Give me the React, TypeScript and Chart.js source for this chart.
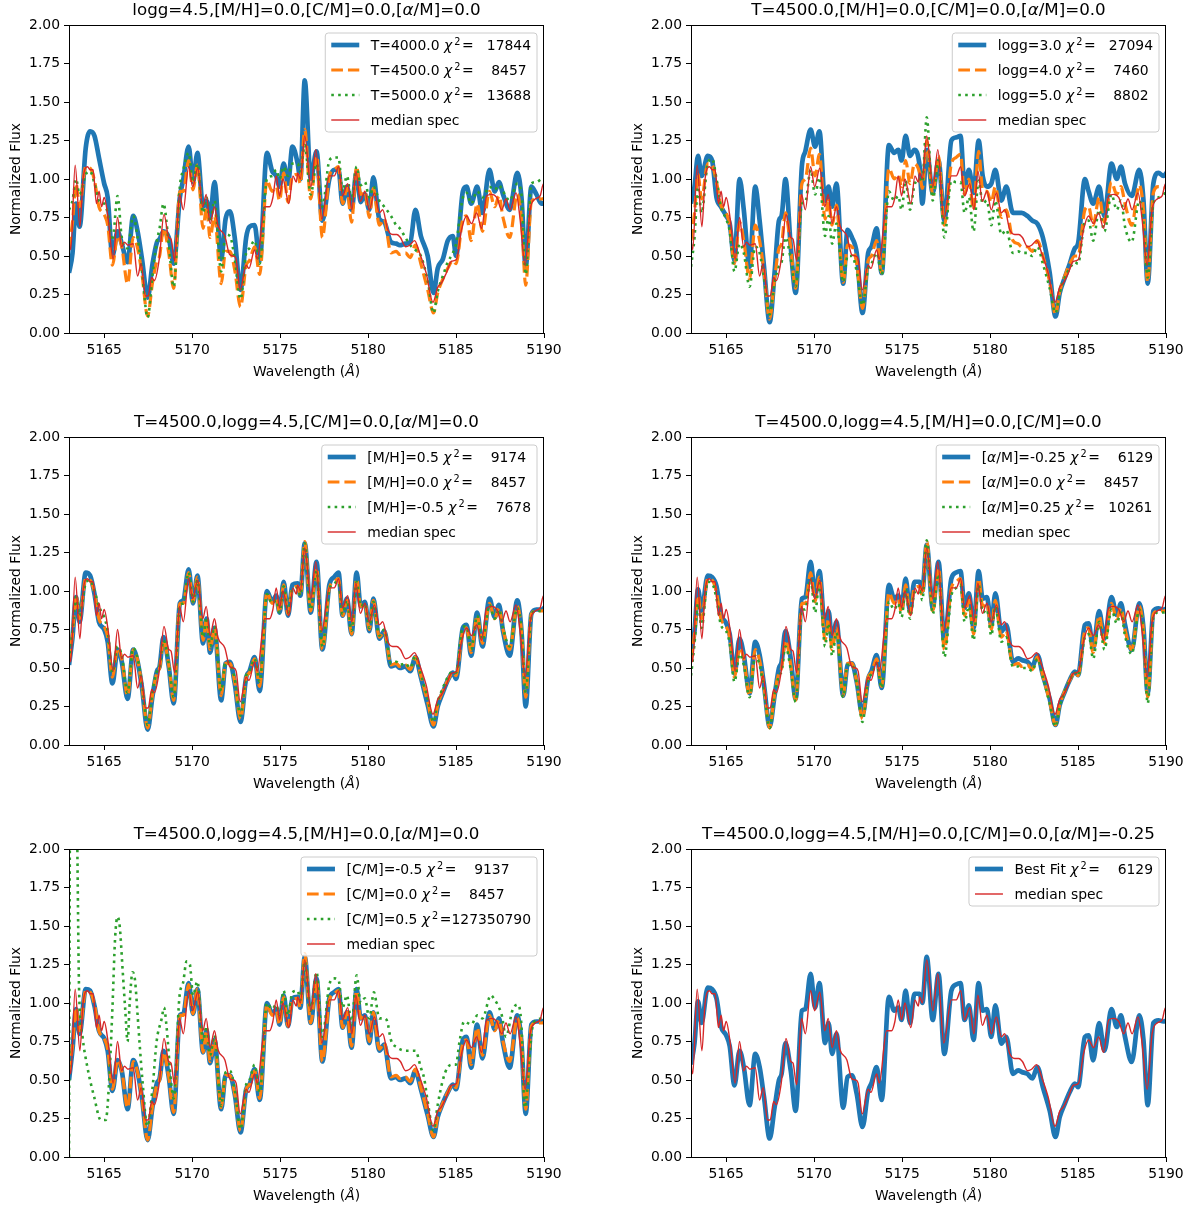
import React, { useEffect, useRef } from "react";
import { Chart, registerables } from "chart.js";
Chart.register(...registerables);

// ---------------- data ----------------
const X_MIN = 5163;
const X_MAX = 5190;
const X_TICKS = [5165, 5170, 5175, 5180, 5185, 5190];
const Y_TICKS = [0, 0.25, 0.5, 0.75, 1.0, 1.25, 1.5, 1.75, 2.0];

// wavelength nodes shared by the model spectra
const MODEL_WL = [
  5163.0, 5163.2, 5163.4, 5163.6, 5163.95, 5164.2, 5164.45, 5164.7, 5165.0, 5165.2,
  5165.47, 5165.76, 5166.0, 5166.33, 5166.65, 5166.9, 5167.15, 5167.47, 5167.75, 5168.0,
  5168.15, 5168.37, 5168.67, 5168.95, 5169.3, 5169.5, 5169.8, 5170.05, 5170.3, 5170.62,
  5170.82, 5171.02, 5171.27, 5171.65, 5171.9, 5172.15, 5172.42, 5172.75, 5173.07, 5173.26,
  5173.55, 5173.84, 5174.25, 5174.55, 5174.78, 5174.97, 5175.2, 5175.45, 5175.7, 5176.0,
  5176.15, 5176.4, 5176.74, 5177.07, 5177.4, 5177.8, 5178.07, 5178.32, 5178.55, 5178.8,
  5179.06, 5179.35, 5179.58, 5179.82, 5180.07, 5180.3, 5180.64, 5180.92, 5181.3, 5181.6,
  5181.8, 5182.12, 5182.4, 5182.69, 5183.0, 5183.39, 5183.72, 5183.96, 5184.25, 5184.53,
  5184.82, 5185.0, 5185.39, 5185.6, 5185.86, 5186.2, 5186.5, 5186.9, 5187.2, 5187.44,
  5187.67, 5188.05, 5188.48, 5188.72, 5188.96, 5189.28, 5189.57, 5189.85, 5190.1,
];

// T=4500, logg=4.5, [M/H]=0, [C/M]=0, [a/M]=0
const BASE = [
  0.55, 0.72, 0.97, 0.82, 1.08, 1.07, 0.99, 0.82, 0.77, 0.70,
  0.44, 0.63, 0.56, 0.32, 0.62, 0.55, 0.38, 0.11, 0.33, 0.47,
  0.50, 0.68, 0.52, 0.29, 0.92, 0.92, 1.12, 0.93, 1.09, 0.68,
  0.82, 0.62, 0.76, 0.32, 0.53, 0.53, 0.41, 0.17, 0.44, 0.47,
  0.56, 0.38, 0.99, 0.92, 0.95, 0.86, 1.04, 0.85, 1.02, 1.03,
  0.97, 1.32, 0.87, 1.15, 0.62, 1.02, 1.06, 1.08, 0.84, 0.94,
  0.72, 1.08, 0.90, 0.92, 0.75, 0.94, 0.70, 0.74, 0.52, 0.53,
  0.51, 0.52, 0.49, 0.57, 0.45, 0.28, 0.13, 0.26, 0.35, 0.42,
  0.47, 0.45, 0.74, 0.76, 0.60, 0.84, 0.66, 0.92, 0.82, 0.89,
  0.75, 0.62, 0.90, 0.74, 0.31, 0.85, 0.87, 0.87, 0.88,
];

const T4000 = [
  0.39, 0.52, 0.84, 0.69, 1.20, 1.31, 1.28, 1.14, 0.97, 0.88,
  0.50, 0.66, 0.58, 0.46, 0.76, 0.66, 0.48, 0.23, 0.45, 0.59,
  0.61, 0.66, 0.62, 0.45, 0.88, 1.00, 1.21, 0.98, 1.17, 0.82,
  0.86, 0.75, 0.98, 0.48, 0.74, 0.79, 0.62, 0.28, 0.62, 0.69,
  0.70, 0.47, 1.17, 1.05, 1.02, 0.95, 1.10, 0.97, 1.21, 1.10,
  1.00, 1.64, 1.00, 1.18, 0.73, 1.00, 1.06, 1.06, 0.84, 0.95,
  0.80, 1.05, 0.85, 0.90, 0.80, 1.01, 0.74, 0.72, 0.59, 0.58,
  0.57, 0.58, 0.59, 0.80, 0.63, 0.50, 0.26, 0.42, 0.48, 0.60,
  0.63, 0.50, 0.92, 0.95, 0.84, 0.95, 0.78, 1.06, 0.92, 0.98,
  0.90, 0.80, 1.04, 0.88, 0.43, 0.95, 0.90, 0.84, 0.85,
];

const T5000 = [
  0.80, 0.86, 1.00, 0.90, 1.03, 1.05, 0.97, 0.86, 0.84, 0.78,
  0.60, 0.89, 0.62, 0.55, 0.76, 0.62, 0.40, 0.10, 0.38, 0.60,
  0.68, 0.84, 0.58, 0.30, 0.95, 1.06, 1.17, 0.98, 1.10, 0.78,
  0.88, 0.72, 0.86, 0.40, 0.64, 0.63, 0.48, 0.22, 0.52, 0.55,
  0.60, 0.45, 1.00, 1.02, 1.06, 1.00, 1.08, 1.02, 1.10, 1.10,
  1.05, 1.22, 0.90, 1.10, 0.82, 1.12, 1.14, 1.14, 0.92, 1.02,
  0.86, 1.08, 0.96, 0.98, 0.88, 0.95, 0.86, 0.82, 0.76, 0.70,
  0.68, 0.62, 0.57, 0.54, 0.50, 0.34, 0.13, 0.27, 0.37, 0.46,
  0.52, 0.58, 0.88, 0.91, 0.84, 0.92, 0.88, 0.95, 0.93, 0.96,
  0.92, 0.86, 0.97, 0.90, 0.38, 0.97, 0.98, 1.00, 1.01,
];

const LOGG30 = [
  0.84, 0.95, 1.15, 1.02, 1.15, 1.12, 0.88, 0.82, 0.76, 0.71,
  0.47, 1.00, 0.80, 0.43, 0.95, 0.73, 0.43, 0.07, 0.39, 0.73,
  0.76, 1.00, 0.56, 0.26, 1.08, 1.18, 1.32, 1.21, 1.31, 0.86,
  0.95, 0.82, 0.97, 0.32, 0.67, 0.62, 0.52, 0.13, 0.52, 0.56,
  0.68, 0.39, 1.22, 1.17, 1.19, 1.12, 1.28, 1.15, 1.19, 1.08,
  0.84, 1.19, 0.91, 1.12, 0.73, 1.25, 1.27, 1.28, 0.95, 1.06,
  0.91, 1.25, 1.02, 0.95, 0.97, 1.06, 0.86, 0.95, 0.78, 0.78,
  0.78, 0.76, 0.73, 0.71, 0.62, 0.39, 0.107, 0.26, 0.36, 0.45,
  0.55, 0.58, 1.00, 0.92, 0.84, 0.95, 0.76, 1.10, 1.00, 1.08,
  0.97, 0.89, 1.06, 0.86, 0.32, 0.97, 1.04, 1.02, 1.05,
];

const LOGG40 = [
  0.60, 0.78, 1.03, 0.87, 1.10, 1.09, 0.98, 0.83, 0.78, 0.70,
  0.45, 0.72, 0.60, 0.35, 0.70, 0.60, 0.40, 0.09, 0.35, 0.55,
  0.58, 0.78, 0.55, 0.29, 0.97, 1.00, 1.20, 1.02, 1.16, 0.74,
  0.86, 0.70, 0.83, 0.33, 0.57, 0.56, 0.45, 0.16, 0.47, 0.50,
  0.60, 0.39, 1.07, 1.00, 1.03, 0.95, 1.12, 0.97, 1.10, 1.04,
  0.94, 1.25, 0.90, 1.15, 0.70, 1.10, 1.14, 1.16, 0.90, 1.00,
  0.80, 1.18, 0.93, 0.92, 0.85, 0.95, 0.75, 0.80, 0.60, 0.58,
  0.56, 0.56, 0.53, 0.60, 0.50, 0.33, 0.12, 0.27, 0.37, 0.45,
  0.50, 0.50, 0.80, 0.82, 0.70, 0.88, 0.72, 0.98, 0.90, 0.95,
  0.84, 0.70, 0.96, 0.80, 0.33, 0.91, 0.95, 0.95, 0.93,
];

const LOGG50 = [
  0.43, 0.62, 0.95, 0.78, 1.10, 1.13, 1.00, 0.82, 0.74, 0.66,
  0.40, 0.58, 0.52, 0.30, 0.56, 0.52, 0.36, 0.12, 0.33, 0.43,
  0.46, 0.62, 0.48, 0.30, 0.84, 0.85, 1.06, 0.90, 1.01, 0.63,
  0.76, 0.58, 0.71, 0.33, 0.50, 0.50, 0.40, 0.18, 0.42, 0.45,
  0.52, 0.38, 0.92, 0.86, 0.89, 0.80, 0.99, 0.80, 0.96, 1.00,
  0.98, 1.40, 0.86, 1.12, 0.62, 0.99, 0.98, 0.98, 0.78, 0.88,
  0.66, 0.99, 0.84, 0.86, 0.70, 0.86, 0.64, 0.67, 0.52, 0.53,
  0.52, 0.52, 0.50, 0.56, 0.45, 0.29, 0.13, 0.26, 0.36, 0.42,
  0.46, 0.45, 0.72, 0.73, 0.60, 0.80, 0.66, 0.90, 0.80, 0.86,
  0.69, 0.59, 0.86, 0.72, 0.36, 0.84, 0.88, 0.90, 0.93,
];

const MH_P05 = [
  0.52, 0.70, 0.96, 0.80, 1.12, 1.10, 0.98, 0.80, 0.75, 0.67,
  0.40, 0.62, 0.54, 0.30, 0.62, 0.54, 0.37, 0.10, 0.32, 0.48,
  0.51, 0.70, 0.51, 0.27, 0.92, 0.94, 1.14, 0.92, 1.10, 0.66,
  0.82, 0.60, 0.76, 0.29, 0.53, 0.54, 0.40, 0.15, 0.44, 0.48,
  0.57, 0.35, 1.00, 0.93, 0.97, 0.86, 1.06, 0.84, 1.04, 1.05,
  0.97, 1.31, 0.86, 1.19, 0.62, 1.04, 1.09, 1.12, 0.84, 0.95,
  0.72, 1.12, 0.90, 0.93, 0.74, 0.95, 0.69, 0.74, 0.51, 0.52,
  0.50, 0.51, 0.48, 0.57, 0.44, 0.26, 0.12, 0.25, 0.34, 0.42,
  0.47, 0.43, 0.76, 0.78, 0.58, 0.86, 0.64, 0.95, 0.83, 0.91,
  0.74, 0.58, 0.94, 0.74, 0.25, 0.85, 0.88, 0.88, 0.90,
];

const MH_M05 = [
  0.55, 0.74, 0.96, 0.84, 1.05, 1.07, 1.00, 0.90, 0.83, 0.74,
  0.47, 0.64, 0.58, 0.34, 0.63, 0.56, 0.40, 0.13, 0.35, 0.48,
  0.51, 0.68, 0.53, 0.31, 0.91, 0.92, 1.12, 0.93, 1.07, 0.70,
  0.83, 0.64, 0.77, 0.35, 0.54, 0.53, 0.43, 0.19, 0.45, 0.48,
  0.56, 0.41, 0.98, 0.92, 0.94, 0.86, 1.03, 0.86, 1.01, 1.02,
  0.97, 1.31, 0.88, 1.13, 0.64, 1.01, 1.05, 1.06, 0.85, 0.94,
  0.74, 1.06, 0.90, 0.92, 0.76, 0.93, 0.71, 0.75, 0.53, 0.54,
  0.52, 0.53, 0.50, 0.58, 0.46, 0.30, 0.15, 0.28, 0.37, 0.44,
  0.48, 0.47, 0.77, 0.77, 0.62, 0.84, 0.68, 0.91, 0.82, 0.88,
  0.76, 0.64, 0.89, 0.75, 0.34, 0.85, 0.87, 0.87, 0.88,
];

// [a/M]=-0.25 (also the best fit)
const AM_M025 = [
  0.60, 0.74, 1.01, 0.87, 1.10, 1.09, 1.03, 0.85, 0.79, 0.72,
  0.465, 0.69, 0.585, 0.336, 0.67, 0.584, 0.39, 0.12, 0.32, 0.50,
  0.54, 0.74, 0.56, 0.30, 0.95, 0.96, 1.19, 0.97, 1.13, 0.74,
  0.87, 0.67, 0.80, 0.32, 0.52, 0.53, 0.41, 0.195, 0.43, 0.48,
  0.584, 0.37, 1.04, 0.95, 0.97, 0.89, 1.08, 0.87, 1.06, 1.06,
  1.00, 1.30, 0.89, 1.19, 0.67, 1.08, 1.12, 1.13, 0.89, 0.985,
  0.76, 1.13, 0.95, 0.96, 0.78, 0.985, 0.736, 0.78, 0.54, 0.563,
  0.552, 0.54, 0.51, 0.584, 0.454, 0.30, 0.13, 0.26, 0.347, 0.422,
  0.477, 0.454, 0.78, 0.79, 0.628, 0.87, 0.69, 0.96, 0.844, 0.92,
  0.78, 0.617, 0.92, 0.758, 0.336, 0.87, 0.888, 0.88, 0.89,
];

const AM_P025 = [
  0.45, 0.66, 0.92, 0.76, 1.06, 1.05, 0.95, 0.78, 0.74, 0.66,
  0.41, 0.59, 0.52, 0.31, 0.58, 0.52, 0.36, 0.11, 0.33, 0.45,
  0.48, 0.64, 0.49, 0.28, 0.88, 0.88, 1.08, 0.86, 1.05, 0.64,
  0.79, 0.58, 0.73, 0.31, 0.52, 0.52, 0.40, 0.15, 0.43, 0.46,
  0.53, 0.37, 0.93, 0.88, 0.92, 0.83, 1.01, 0.82, 0.99, 1.00,
  0.94, 1.33, 0.85, 1.11, 0.57, 0.97, 1.02, 1.04, 0.80, 0.90,
  0.68, 1.04, 0.86, 0.88, 0.71, 0.90, 0.67, 0.70, 0.51, 0.51,
  0.50, 0.50, 0.48, 0.56, 0.44, 0.27, 0.12, 0.25, 0.35, 0.42,
  0.47, 0.45, 0.70, 0.72, 0.56, 0.80, 0.62, 0.88, 0.79, 0.86,
  0.71, 0.59, 0.88, 0.72, 0.27, 0.83, 0.86, 0.86, 0.87,
];

const CM_M05 = [
  0.50, 0.70, 0.96, 0.80, 1.09, 1.08, 0.98, 0.82, 0.77, 0.69,
  0.43, 0.63, 0.56, 0.31, 0.63, 0.55, 0.38, 0.11, 0.33, 0.48,
  0.51, 0.69, 0.52, 0.28, 0.92, 0.93, 1.13, 0.93, 1.09, 0.68,
  0.82, 0.61, 0.76, 0.31, 0.53, 0.53, 0.41, 0.16, 0.44, 0.47,
  0.57, 0.37, 1.00, 0.93, 0.96, 0.86, 1.05, 0.85, 1.03, 1.04,
  0.97, 1.30, 0.87, 1.16, 0.62, 1.03, 1.07, 1.09, 0.84, 0.94,
  0.71, 1.09, 0.90, 0.92, 0.74, 0.94, 0.69, 0.73, 0.51, 0.52,
  0.50, 0.51, 0.48, 0.56, 0.44, 0.27, 0.13, 0.26, 0.35, 0.42,
  0.47, 0.44, 0.76, 0.78, 0.58, 0.86, 0.64, 0.94, 0.83, 0.90,
  0.74, 0.58, 0.92, 0.74, 0.28, 0.86, 0.88, 0.88, 0.89,
];

// [C/M]=+0.5 has its own sampling (strong features at the blue end)
const CM_P05_WL = [
  5163.0, 5163.06, 5163.25, 5163.45, 5163.57, 5163.76, 5164.05, 5164.43, 5164.81, 5165.09,
  5165.28, 5165.47, 5165.62, 5165.76, 5165.89, 5166.04, 5166.2, 5166.33, 5166.45, 5166.61,
  5166.75, 5166.9, 5167.03, 5167.18, 5167.45, 5167.75, 5167.98, 5168.27, 5168.4, 5168.55,
  5168.8, 5168.95, 5169.27, 5169.5, 5169.68, 5169.87, 5170.05, 5170.3, 5170.62, 5170.82,
  5171.02, 5171.27, 5171.65, 5171.9, 5172.15, 5172.42, 5172.75, 5173.07, 5173.26, 5173.55,
  5173.84, 5174.25, 5174.55, 5174.78, 5174.97, 5175.2, 5175.45, 5175.7, 5176.0, 5176.15,
  5176.4, 5176.74, 5177.07, 5177.4, 5177.8, 5178.07, 5178.32, 5178.55, 5178.8, 5179.06,
  5179.35, 5179.58, 5179.82, 5180.07, 5180.33, 5180.64, 5180.92, 5181.09, 5181.3, 5181.67,
  5181.8, 5182.12, 5182.4, 5182.69, 5183.0, 5183.19, 5183.39, 5183.72, 5183.96, 5184.25,
  5184.51, 5184.82, 5184.99, 5185.2, 5185.46, 5185.86, 5186.22, 5186.5, 5186.98, 5187.2,
  5187.36, 5187.6, 5187.84, 5188.2, 5188.5, 5188.72, 5188.9, 5189.34, 5189.6, 5189.82,
  5190.1,
];
const CM_P05 = [
  0.00, 2.30, 2.90, 2.20, 1.10, 0.79, 0.58, 0.39, 0.24, 0.24,
  0.49, 0.97, 1.42, 1.56, 1.49, 1.23, 0.95, 0.75, 1.00, 1.20,
  1.15, 0.92, 0.71, 0.49, 0.20, 0.45, 0.75, 0.90, 0.97, 0.84,
  0.49, 0.38, 1.03, 1.14, 1.27, 1.25, 1.05, 1.14, 0.75, 0.85,
  0.66, 0.79, 0.33, 0.55, 0.56, 0.44, 0.18, 0.47, 0.50, 0.60,
  0.42, 1.00, 0.96, 0.99, 0.92, 1.08, 0.92, 1.07, 1.08, 1.02,
  1.27, 0.95, 1.20, 0.78, 1.12, 1.16, 1.15, 0.97, 1.05, 0.86,
  1.18, 1.00, 1.03, 0.90, 1.07, 0.90, 0.90, 0.88, 0.76, 0.71,
  0.70, 0.69, 0.69, 0.69, 0.58, 0.51, 0.36, 0.17, 0.34, 0.50,
  0.58, 0.60, 0.60, 0.75, 0.88, 0.86, 0.92, 0.90, 1.05, 1.02,
  0.99, 0.92, 0.78, 0.95, 0.99, 0.85, 0.32, 0.84, 0.89, 0.90,
  0.91,
];

// observed median spectrum
const MEDIAN_WL = [
  5163.0, 5163.1, 5163.35, 5163.62, 5163.8, 5164.05, 5164.2, 5164.37, 5164.56, 5164.71,
  5164.85, 5165.0, 5165.23, 5165.51, 5165.76, 5165.99, 5166.15, 5166.35, 5166.65, 5166.9,
  5167.1, 5167.35, 5167.5, 5167.7, 5167.85, 5168.13, 5168.4, 5168.67, 5168.8, 5169.0,
  5169.14, 5169.28, 5169.5, 5169.8, 5170.03, 5170.32, 5170.6, 5170.8, 5171.02, 5171.27,
  5171.46, 5171.86, 5172.13, 5172.36, 5172.5, 5172.73, 5173.07, 5173.23, 5173.55, 5173.7,
  5174.12, 5174.4, 5174.59, 5174.78, 5174.97, 5175.16, 5175.5, 5175.73, 5175.92, 5176.0,
  5176.15, 5176.4, 5176.75, 5177.03, 5177.37, 5177.8, 5178.08, 5178.33, 5178.55, 5178.84,
  5179.08, 5179.31, 5179.56, 5179.82, 5180.07, 5180.36, 5180.64, 5180.83, 5181.12, 5181.4,
  5181.63, 5181.84, 5182.13, 5182.36, 5182.64, 5182.93, 5183.3, 5183.69, 5183.97, 5184.17,
  5184.45, 5184.74, 5185.02, 5185.31, 5185.6, 5185.88, 5186.17, 5186.45, 5186.74, 5187.03,
  5187.31, 5187.6, 5187.84, 5188.07, 5188.41, 5188.64, 5188.93, 5189.21, 5189.5, 5189.78,
  5189.97, 5190.1,
];
const MEDIAN = [
  0.62, 0.54, 1.09, 0.69, 1.00, 1.08, 1.06, 1.06, 0.84, 0.92,
  0.82, 0.88, 0.74, 0.48, 0.75, 0.56, 0.59, 0.57, 0.58, 0.37,
  0.45, 0.24, 0.24, 0.36, 0.34, 0.48, 0.77, 0.62, 0.61, 0.47,
  0.67, 0.90, 0.80, 1.08, 0.95, 1.07, 0.82, 0.90, 0.71, 0.82,
  0.70, 0.63, 0.51, 0.50, 0.48, 0.28, 0.44, 0.42, 0.54, 0.48,
  0.82, 0.82, 0.88, 1.02, 0.89, 1.00, 0.84, 1.02, 0.98, 1.04,
  1.00, 1.28, 0.95, 1.19, 0.74, 1.02, 1.02, 1.08, 0.89, 0.97,
  0.80, 1.05, 0.855, 0.92, 0.80, 0.91, 0.78, 0.80, 0.67, 0.64,
  0.64, 0.62, 0.56, 0.57, 0.60, 0.52, 0.39, 0.20, 0.30, 0.325,
  0.39, 0.466, 0.477, 0.67, 0.76, 0.71, 0.78, 0.68, 0.89, 0.90,
  0.88, 0.80, 0.87, 0.80, 0.91, 0.74, 0.44, 0.80, 0.87, 0.89,
  0.97, 0.96,
];

// ---------------- styling ----------------
const FONT = "DejaVu Sans";
const FS = 13.9;
const TITLE_FS = 16.7;

const STYLES: any = {
  blue: { color: "#1f77b4", width: 4.7, dash: [] },
  orange: { color: "#ff7f0e", width: 3.2, dash: [11.7, 5] },
  green: { color: "#2ca02c", width: 2.6, dash: [2.6, 4.3] },
  red: { color: "#d62728", width: 1.4, dash: [] },
};

const chiLabel = (name: string, chi: number) => `${name} χ²=${String(chi).padStart(8, " ")}`;
const med = { wl: MEDIAN_WL, flux: MEDIAN, label: "median spec", style: "red" };

const PANELS = [
  {
    title: "logg=4.5,[M/H]=0.0,[C/M]=0.0,[α/M]=0.0",
    series: [
      { wl: MODEL_WL, flux: T4000, label: chiLabel("T=4000.0", 17844), style: "blue" },
      { wl: MODEL_WL, flux: BASE, label: chiLabel("T=4500.0", 8457), style: "orange" },
      { wl: MODEL_WL, flux: T5000, label: chiLabel("T=5000.0", 13688), style: "green" },
      med,
    ],
  },
  {
    title: "T=4500.0,[M/H]=0.0,[C/M]=0.0,[α/M]=0.0",
    series: [
      { wl: MODEL_WL, flux: LOGG30, label: chiLabel("logg=3.0", 27094), style: "blue" },
      { wl: MODEL_WL, flux: LOGG40, label: chiLabel("logg=4.0", 7460), style: "orange" },
      { wl: MODEL_WL, flux: LOGG50, label: chiLabel("logg=5.0", 8802), style: "green" },
      med,
    ],
  },
  {
    title: "T=4500.0,logg=4.5,[C/M]=0.0,[α/M]=0.0",
    series: [
      { wl: MODEL_WL, flux: MH_P05, label: chiLabel("[M/H]=0.5", 9174), style: "blue" },
      { wl: MODEL_WL, flux: BASE, label: chiLabel("[M/H]=0.0", 8457), style: "orange" },
      { wl: MODEL_WL, flux: MH_M05, label: chiLabel("[M/H]=-0.5", 7678), style: "green" },
      med,
    ],
  },
  {
    title: "T=4500.0,logg=4.5,[M/H]=0.0,[C/M]=0.0",
    series: [
      { wl: MODEL_WL, flux: AM_M025, label: chiLabel("[α/M]=-0.25", 6129), style: "blue" },
      { wl: MODEL_WL, flux: BASE, label: chiLabel("[α/M]=0.0", 8457), style: "orange" },
      { wl: MODEL_WL, flux: AM_P025, label: chiLabel("[α/M]=0.25", 10261), style: "green" },
      med,
    ],
  },
  {
    title: "T=4500.0,logg=4.5,[M/H]=0.0,[α/M]=0.0",
    series: [
      { wl: MODEL_WL, flux: CM_M05, label: chiLabel("[C/M]=-0.5", 9137), style: "blue" },
      { wl: MODEL_WL, flux: BASE, label: chiLabel("[C/M]=0.0", 8457), style: "orange" },
      { wl: CM_P05_WL, flux: CM_P05, label: chiLabel("[C/M]=0.5", 127350790), style: "green" },
      med,
    ],
  },
  {
    title: "T=4500.0,logg=4.5,[M/H]=0.0,[C/M]=0.0,[α/M]=-0.25",
    series: [
      { wl: MODEL_WL, flux: AM_M025, label: chiLabel("Best Fit", 6129), style: "blue" },
      med,
    ],
  },
];

// ---------------- rich text helpers ----------------
type Run = { text: string; italic: boolean; sup: boolean };
function toRuns(s: string): Run[] {
  const runs: Run[] = [];
  for (const ch of s) {
    let italic = false;
    let sup = false;
    let t = ch;
    if (ch === "χ" || ch === "α" || ch === "Å") italic = true;
    if (ch === "²") {
      sup = true;
      t = "2";
    }
    const last = runs[runs.length - 1];
    if (last && last.italic === italic && last.sup === sup) last.text += t;
    else runs.push({ text: t, italic, sup });
  }
  return runs;
}
function runFont(r: Run, size: number) {
  const s = r.sup ? size * 0.7 : size;
  return `${r.italic ? "italic " : ""}${s}px "${FONT}"`;
}
// math-like symbols get a little extra room, like mathtext does
function runExtra(r: Run, size: number) {
  if (r.sup) return size * 0.16;
  if (r.text === "χ") return size * 0.1;
  return 0;
}
function measureRich(ctx: CanvasRenderingContext2D, s: string, size: number) {
  let w = 0;
  for (const r of toRuns(s)) {
    ctx.font = runFont(r, size);
    w += ctx.measureText(r.text).width + runExtra(r, size);
  }
  return w;
}
function drawRich(ctx: CanvasRenderingContext2D, s: string, x: number, y: number, size: number, align: string) {
  const w = measureRich(ctx, s, size);
  let cx = align === "center" ? x - w / 2 : align === "right" ? x - w : x;
  ctx.textAlign = "left";
  ctx.textBaseline = "alphabetic";
  for (const r of toRuns(s)) {
    ctx.font = runFont(r, size);
    const ex = runExtra(r, size);
    ctx.fillText(r.text, cx + (r.sup ? ex * 0.3 : 0), r.sup ? y - size * 0.38 : y);
    cx += ctx.measureText(r.text).width + ex;
  }
}

function decorPlugin(cfg: any) {
  return {
    id: "decor",
    afterDraw(chart: any) {
      const { ctx, chartArea: a } = chart;
      ctx.save();
      // frame (spines)
      ctx.strokeStyle = "#000";
      ctx.lineWidth = 1;
      ctx.setLineDash([]);
      ctx.strokeRect(a.left + 0.5, a.top + 0.5, a.right - a.left - 1, a.bottom - a.top);

      ctx.fillStyle = "#000";
      // title
      drawRich(ctx, cfg.title, (a.left + a.right) / 2, a.top - 10, TITLE_FS, "center");
      // x label
      drawRich(ctx, "Wavelength (Å)", (a.left + a.right) / 2, a.bottom + 43, FS, "center");
      // y label
      ctx.save();
      ctx.translate(a.left - 49, (a.top + a.bottom) / 2);
      ctx.rotate(-Math.PI / 2);
      drawRich(ctx, "Normalized Flux", 0, 0, FS, "center");
      ctx.restore();

      // legend
      const items = cfg.series;
      let maxW = 0;
      for (const it of items) maxW = Math.max(maxW, measureRich(ctx, it.label, FS));
      const boxW = 6 + 28 + 11.5 + maxW + 6;
      const n = items.length;
      const boxH = 25 * n - 1;
      const right = a.right - 7;
      const left = right - boxW;
      const top = a.top + 8;
      const r = 3;
      ctx.beginPath();
      ctx.moveTo(left + r, top);
      ctx.lineTo(right - r, top);
      ctx.quadraticCurveTo(right, top, right, top + r);
      ctx.lineTo(right, top + boxH - r);
      ctx.quadraticCurveTo(right, top + boxH, right - r, top + boxH);
      ctx.lineTo(left + r, top + boxH);
      ctx.quadraticCurveTo(left, top + boxH, left, top + boxH - r);
      ctx.lineTo(left, top + r);
      ctx.quadraticCurveTo(left, top, left + r, top);
      ctx.closePath();
      ctx.fillStyle = "rgba(255,255,255,0.8)";
      ctx.fill();
      ctx.strokeStyle = "#cccccc";
      ctx.lineWidth = 1;
      ctx.stroke();

      items.forEach((it: any, i: number) => {
        const st = STYLES[it.style];
        const cy = top + 12 + 25 * i;
        ctx.strokeStyle = st.color;
        ctx.lineWidth = st.width;
        ctx.setLineDash(st.dash);
        ctx.lineCap = "butt";
        ctx.beginPath();
        ctx.moveTo(left + 6, cy);
        ctx.lineTo(left + 34, cy);
        ctx.stroke();
        ctx.setLineDash([]);
        ctx.fillStyle = "#000";
        drawRich(ctx, it.label, left + 45.5, cy + 5, FS, "left");
      });
      ctx.restore();
    },
  };
}

// ---------------- components ----------------
function Panel({ cfg, left, top, width, height }: any) {
  const ref = useRef<HTMLCanvasElement>(null);
  useEffect(() => {
    const canvas = ref.current;
    if (!canvas) return;
    const n = cfg.series.length;
    const datasets = cfg.series.map((s: any, i: number) => {
      const st = STYLES[s.style];
      return {
        label: s.label,
        data: s.wl.map((x: number, j: number) => ({ x, y: s.flux[j] })),
        borderColor: st.color,
        backgroundColor: st.color,
        borderWidth: st.width,
        borderDash: st.dash,
        borderJoinStyle: "round",
        pointRadius: 0,
        pointHoverRadius: 0,
        fill: false,
        cubicInterpolationMode: "monotone",
        clip: 0,
        order: n - i,
      };
    });
    const tickFont = { family: FONT, size: FS };
    const chart = new Chart(canvas, {
      type: "line",
      data: { datasets },
      plugins: [decorPlugin(cfg)],
      options: {
        animation: false,
        responsive: false,
        events: [],
        layout: { padding: { top: 25, right: width - 544, left: 0, bottom: 0 } },
        plugins: {
          legend: { display: false },
          title: { display: false },
          tooltip: { enabled: false },
        },
        scales: {
          x: {
            type: "linear",
            min: X_MIN,
            max: X_MAX,
            afterBuildTicks: (sc: any) => {
              sc.ticks = X_TICKS.map((v) => ({ value: v }));
            },
            afterFit: (sc: any) => {
              sc.height = height - 333;
            },
            ticks: {
              font: tickFont,
              color: "#000",
              padding: 4,
              autoSkip: false,
              maxRotation: 0,
              minRotation: 0,
              callback: (v: any) => String(v),
            },
            grid: { display: true, drawOnChartArea: false, drawTicks: true, tickLength: 5, color: "#000", lineWidth: 1 },
            border: { display: false },
          },
          y: {
            type: "linear",
            min: 0,
            max: 2,
            afterBuildTicks: (sc: any) => {
              sc.ticks = Y_TICKS.map((v) => ({ value: v }));
            },
            afterFit: (sc: any) => {
              sc.width = 69;
            },
            ticks: {
              font: tickFont,
              color: "#000",
              padding: 4,
              autoSkip: false,
              callback: (v: any) => Number(v).toFixed(2),
            },
            grid: { display: true, drawOnChartArea: false, drawTicks: true, tickLength: 5, color: "#000", lineWidth: 1 },
            border: { display: false },
          },
        },
      } as any,
    } as any);
    return () => chart.destroy();
  }, []);
  return (
    <canvas
      ref={ref}
      width={width}
      height={height}
      style={{ position: "absolute", left, top, width, height }}
    />
  );
}

export default function App() {
  const positions = [
    { left: 0, top: 0, width: 598 },
    { left: 622, top: 0, width: 574 },
    { left: 0, top: 412, width: 598 },
    { left: 622, top: 412, width: 574 },
    { left: 0, top: 824, width: 598 },
    { left: 622, top: 824, width: 574 },
  ];
  return (
    <div
      style={{
        position: "absolute",
        left: 0,
        top: 0,
        width: 1196,
        height: 1208,
        overflow: "hidden",
        background: "#fff",
      }}
    >
      {PANELS.map((cfg, i) => (
        <Panel key={i} cfg={cfg} height={400} {...positions[i]} />
      ))}
    </div>
  );
}
